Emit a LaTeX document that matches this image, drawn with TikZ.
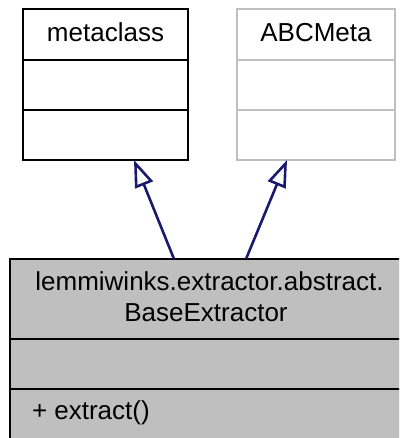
\documentclass[tikz,border=0pt]{standalone}
\usepackage{fontspec}
\setmainfont{Liberation Sans}
\usetikzlibrary{arrows.meta,calc}
\definecolor{edgeblue}{HTML}{191970}
\definecolor{greyc}{HTML}{BFBFBF}
\begin{document}
\begin{tikzpicture}[x=1pt,y=-1pt,
  umlbox/.style={rectangle, draw=black, line width=2.7pt, fill=white, inner sep=0pt, outer sep=0pt},
  greybox/.style={umlbox, draw=greyc},
  basebox/.style={umlbox, fill=greyc},
  sepline/.style={line width=2.7pt},
  lbl/.style={inner sep=0pt, outer sep=0pt, font=\fontsize{26}{31}\selectfont},
  inh/.style={draw=edgeblue, line width=2.6pt, -{Triangle[length=27pt,width=19pt,fill=white]}}
]
\useasboundingbox (0,0) rectangle (399,438);
\clip (0,0) rectangle (399,438);

% metaclass
\node[umlbox, minimum width=165pt, minimum height=151pt] (meta) at (105.5,84.5) {};
\draw[sepline] ($(meta.north west)+(0,51)$) -- ($(meta.north east)+(0,51)$);
\draw[sepline] ($(meta.north west)+(0,101)$) -- ($(meta.north east)+(0,101)$);
\node[lbl, anchor=base] (metaT) at (105.5,41.7) {metaclass};

% ABCMeta
\node[greybox, minimum width=158pt, minimum height=151pt] (abc) at (316,84.5) {};
\draw[sepline, draw=greyc] ($(abc.north west)+(0,51)$) -- ($(abc.north east)+(0,51)$);
\draw[sepline, draw=greyc] ($(abc.north west)+(0,101)$) -- ($(abc.north east)+(0,101)$);
\node[lbl, anchor=base] (abcT) at (316,41.7) {ABCMeta};

% BaseExtractor
\node[basebox, minimum width=399pt, minimum height=180pt] (base) at (209.5,349) {};
\draw[sepline] ($(base.north west)+(0,80)$) -- ($(base.north east)+(0,80)$);
\draw[sepline] ($(base.north west)+(0,130)$) -- ($(base.north east)+(0,130)$);
\node[lbl, anchor=base] (baseT1) at (209.5,290) {lemmiwinks.extractor.abstract.};
\node[lbl, anchor=base] (baseT2) at (206,321.7) {BaseExtractor};
\node[lbl, anchor=base west] (baseM) at (32,419.5) {+ extract()};

% inheritance
\draw[inh] ($(base.north west)+(164,0)$) -- ($(meta.south west)+(111,0)$);
\draw[inh] ($(base.north west)+(236,0)$) -- ($(abc.south west)+(50,0)$);
\end{tikzpicture}
\end{document}
